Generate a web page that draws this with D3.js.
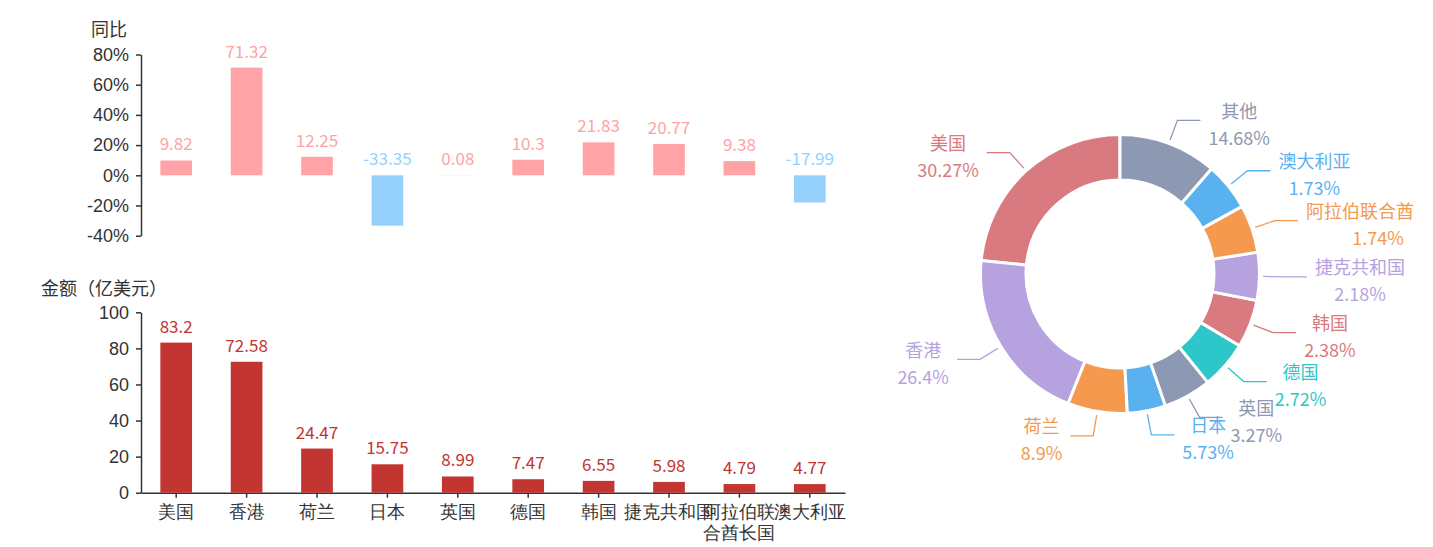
<!DOCTYPE html>
<html>
<head>
<meta charset="utf-8">
<script src="https://cdn.jsdelivr.net/npm/d3@7/dist/d3.min.js"></script>
<style>
  body { margin: 0; background: #fff; }
  svg { display: block; font-family: "Noto Sans CJK SC", "Microsoft YaHei", sans-serif; }
</style>
</head>
<body>
<svg id="viz"></svg>
<script>
// data
const countries = ["美国", "香港", "荷兰", "日本", "英国", "德国", "韩国", "捷克共和国", "阿拉伯联合酋长国", "澳大利亚"]
const yoy = [9.82, 71.32, 12.25, -33.35, 0.08, 10.3, 21.83, 20.77, 9.38, -17.99]
const amount = [83.2, 72.58, 24.47, 15.75, 8.99, 7.47, 6.55, 5.98, 4.79, 4.77]
const yoyTicks = [-40, -20, 0, 20, 40, 60, 80]
const amountTicks = [0, 20, 40, 60, 80, 100]
const shareNames = ["美国", "香港", "荷兰", "日本", "英国", "德国", "韩国", "捷克共和国", "阿拉伯联合酋长国", "澳大利亚", "其他"]
const sharePct = [30.27, 26.4, 8.9, 5.73, 3.27, 2.72, 2.38, 2.18, 1.74, 1.73, 14.68]

const width = 1427
const height = 547
const svg = d3.select("#viz").attr("width", width).attr("height", height)

const axisColor = "#333"
const x = d3.scaleBand().domain(countries).range([141, 845])
const barW = x.bandwidth() * 0.45

// ---- top chart: 同比
const yTop = d3.scaleLinear().domain([-40, 80]).range([235.7, 54.5])

const topAxis = svg.append("g")
    .attr("transform", "translate(141,0)")
    .call(d3.axisLeft(yTop).tickValues(yoyTicks).tickFormat(d => d + "%").tickSize(5).tickPadding(7).tickSizeOuter(0))
topAxis.selectAll("path, line").attr("stroke", axisColor).attr("stroke-width", 1.5)
topAxis.selectAll("text").attr("fill", axisColor).attr("font-size", 18).attr("font-family", null)

svg.append("text").attr("x", 109).attr("y", 30).attr("dy", "0.35em")
    .attr("text-anchor", "middle").attr("font-size", 18).attr("fill", axisColor).text("同比")

const topData = countries.map((c, i) => ({c, v: yoy[i]}))
const topColor = v => v >= 0 ? "#ffa3a6" : "#96d1fc"

svg.append("g").selectAll("rect")
    .data(topData)
    .join("rect")
    .attr("x", d => x(d.c) + (x.bandwidth() - barW) / 2)
    .attr("y", d => yTop(Math.max(0, d.v)))
    .attr("width", barW)
    .attr("height", d => Math.abs(yTop(d.v) - yTop(0)))
    .attr("fill", d => topColor(d.v))

svg.append("g").selectAll("text")
    .data(topData)
    .join("text")
    .attr("x", d => x(d.c) + x.bandwidth() / 2)
    .attr("y", d => yTop(Math.max(0, d.v)) - 16)
    .attr("dy", "0.35em")
    .attr("text-anchor", "middle")
    .attr("font-size", 17)
    .attr("fill", d => topColor(d.v))
    .text(d => d.v)

// ---- bottom chart: 金额
const yBot = d3.scaleLinear().domain([0, 100]).range([492.7, 312.3])

const botY = svg.append("g")
    .attr("transform", "translate(141,0)")
    .call(d3.axisLeft(yBot).tickValues(amountTicks).tickSize(5).tickPadding(7).tickSizeOuter(0))
botY.selectAll("path, line").attr("stroke", axisColor).attr("stroke-width", 1.5)
botY.selectAll("text").attr("fill", axisColor).attr("font-size", 18).attr("font-family", null)

const botX = svg.append("g")
    .attr("transform", `translate(0,${yBot(0)})`)
    .call(d3.axisBottom(x).tickSize(5).tickPadding(8).tickSizeOuter(0))
botX.selectAll("path, line").attr("stroke", axisColor).attr("stroke-width", 1.5)
botX.selectAll("text").attr("fill", axisColor).attr("font-size", 18).attr("font-family", null)
    .each(function(d) {
        // long names wrap in chunks of 4 characters
        if (d.length <= 5) return
        const t = d3.select(this).text(null)
        const parts = d.match(/.{1,4}/g)
        parts.forEach((p, i) => {
            t.append("tspan").attr("x", 0).attr("dy", i === 0 ? "0.71em" : "1.15em").text(p)
        })
    })

svg.append("text").attr("x", 104).attr("y", 289).attr("dy", "0.35em")
    .attr("text-anchor", "middle").attr("font-size", 18).attr("fill", axisColor).text("金额（亿美元）")

const botData = countries.map((c, i) => ({c, v: amount[i]}))

svg.append("g").selectAll("rect")
    .data(botData)
    .join("rect")
    .attr("x", d => x(d.c) + (x.bandwidth() - barW) / 2)
    .attr("y", d => yBot(d.v))
    .attr("width", barW)
    .attr("height", d => yBot(0) - yBot(d.v))
    .attr("fill", "#c23531")

svg.append("g").selectAll("text")
    .data(botData)
    .join("text")
    .attr("x", d => x(d.c) + x.bandwidth() / 2)
    .attr("y", d => yBot(d.v) - 16)
    .attr("dy", "0.35em")
    .attr("text-anchor", "middle")
    .attr("font-size", 17)
    .attr("fill", "#c23531")
    .text(d => d.v)

// ---- donut
const cx = 1120, cy = 274
const rIn = 94, rOut = 139.5
const palette = ["#d87a80", "#b6a2de", "#f5994e", "#5ab1ef", "#8d98b3", "#2ec7c9"]

// small slices get a minimum angle of 20 degrees, the rest share what is left
const minAngle = 20
const isSmall = v => v * 3.6 < minAngle
const nSmall = sharePct.filter(isSmall).length
const sumLarge = d3.sum(sharePct.filter(v => !isSmall(v)))
const smallWeight = minAngle * sumLarge / (360 - minAngle * nSmall)

const pieData = shareNames.map((n, i) => ({name: n, pct: sharePct[i], color: palette[i % palette.length]}))
const arcs = d3.pie()
    .sort(null)
    .startAngle(0)
    .endAngle(-2 * Math.PI)
    .value(d => isSmall(d.pct) ? smallWeight : d.pct)(pieData)

const arc = d3.arc().innerRadius(rIn).outerRadius(rOut)

const donut = svg.append("g").attr("transform", `translate(${cx},${cy})`)

donut.selectAll("path")
    .data(arcs)
    .join("path")
    .attr("d", arc)
    .attr("fill", d => d.data.color)
    .attr("stroke", "#fff")
    .attr("stroke-width", 3)

const pt = (a, r) => [r * Math.sin(a), -r * Math.cos(a)]

arcs.forEach(d => {
    const a = (d.startAngle + d.endAngle) / 2
    const right = Math.sin(a) > 0
    const p0 = pt(a, 143)
    const p1 = pt(a, 164)
    const p2 = [p1[0] + (right ? 23 : -23), p1[1]]

    donut.append("polyline")
        .attr("points", [p0, p1, p2].map(p => p.join(",")).join(" "))
        .attr("fill", "none")
        .attr("stroke", d.data.color)
        .attr("stroke-width", 1.3)

    const g = donut.append("g").attr("fill", d.data.color).attr("font-size", 18)
    const nameT = g.append("text").attr("text-anchor", "middle").attr("dy", "0.35em").text(d.data.name)
    const pctT = g.append("text").attr("text-anchor", "middle").attr("dy", "0.35em").text(d.data.pct + "%")
    const bw = Math.max(nameT.node().getComputedTextLength(), pctT.node().getComputedTextLength())
    const mid = right ? p2[0] + 8 + bw / 2 : p2[0] - 8 - bw / 2
    nameT.attr("x", mid).attr("y", p2[1] - 9)
    pctT.attr("x", mid).attr("y", p2[1] + 18)

    // names that run past the right edge lose their last characters
    const left = cx + mid - bw / 2
    let name = d.data.name
    if (left + nameT.node().getComputedTextLength() > width - 2) {
        nameT.attr("text-anchor", "start").attr("x", mid - bw / 2)
        while (name.length > 1 && left + nameT.node().getComputedTextLength() > width - 2) {
            name = name.slice(0, -1)
            nameT.text(name)
        }
    }
})
</script>
</body>
</html>
